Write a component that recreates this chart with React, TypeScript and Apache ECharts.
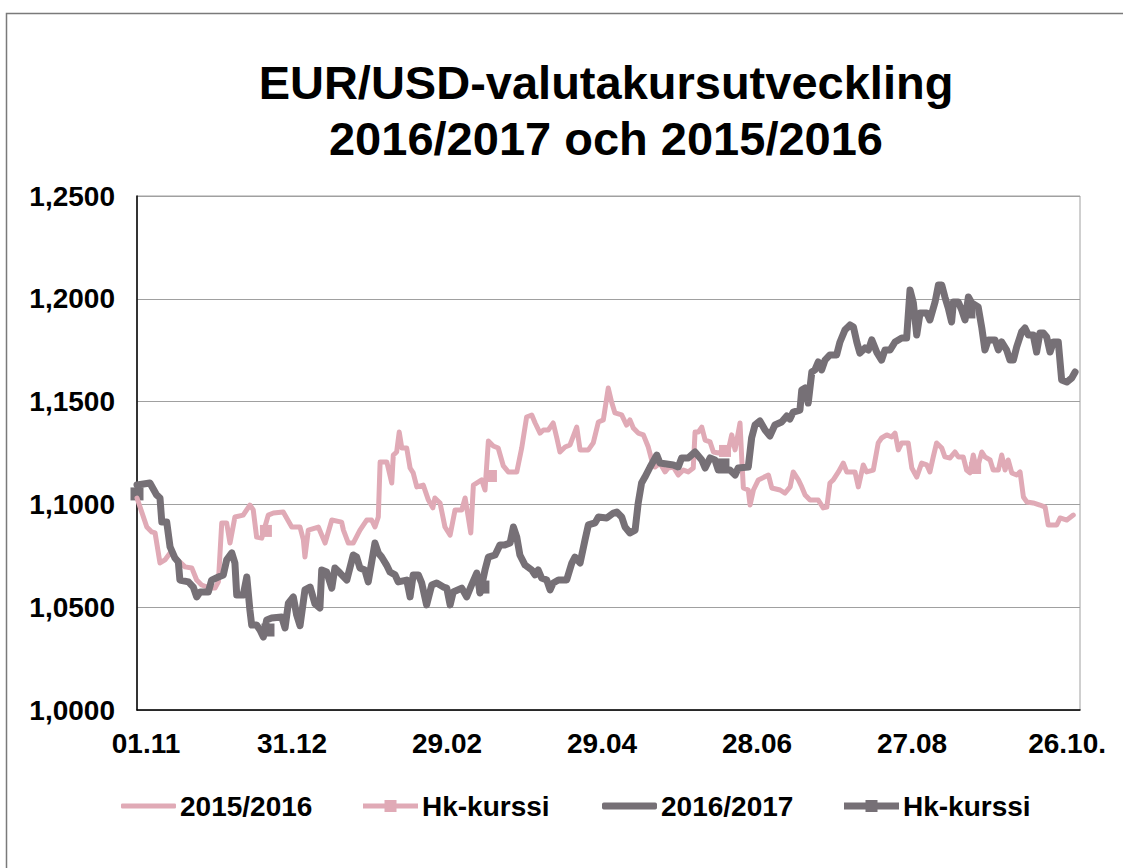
import React, { useEffect, useRef } from "react";
import * as echarts from "echarts";

// x = days since 01.11, y = EUR/USD rate
const tickLabels = ["01.11", "31.12", "29.02", "29.04", "28.06", "27.08", "26.10."];

const rate1516: [number, number][] = [
  [0,1.1031],[3.8,1.0890],[5.7,1.0866],[7.0,1.0861],[8.9,1.0715],[10.8,1.0730],[12.8,1.0764],[18.6,1.0696],[21.2,1.0691],[23.1,1.0632],[25.0,1.0608],[28.3,1.0593],[30.2,1.0593],[31.5,1.0623],[32.8,1.0910],[34.7,1.0910],[36.0,1.0812],[37.9,1.0939],[41.1,1.0948],[43.7,1.0997],[45.0,1.0973],[46.3,1.0841],[48.3,1.0836],[49.5,1.0890],[50.8,1.0948],[52.8,1.0958],[56.6,1.0963],[59.9,1.0890],[63.1,1.0890],[64.4,1.0827],[65.0,1.0744],[66.3,1.0875],[70.2,1.0890],[72.8,1.0812],[75.4,1.0924],[79.2,1.0914],[79.9,1.0875],[81.8,1.0812],[83.7,1.0812],[86.3,1.0875],[88.9,1.0924],[90.8,1.0924],[92.1,1.0890],[93.4,1.0939],[94.1,1.1206],[96.7,1.1206],[98.6,1.1104],[99.2,1.1240],[100.5,1.1255],[101.5,1.1352],[102.5,1.1274],[104.4,1.1274],[105.7,1.1177],[106.9,1.1153],[108.3,1.1085],[110.8,1.1094],[112.8,1.1021],[114.5,1.0983],[115.3,1.1031],[117.3,1.1007],[119.2,1.0890],[121.2,1.0851],[123.1,1.0973],[125.7,1.0973],[127.0,1.1031],[128.2,1.0939],[129.2,1.0861],[130.2,1.1094],[133.4,1.1119],[134.7,1.1070],[136.0,1.1308],[137.9,1.1284],[139.8,1.1274],[141.8,1.1187],[143.7,1.1158],[147.0,1.1158],[148.9,1.1274],[150.8,1.1425],[152.8,1.1435],[154.1,1.1396],[156.0,1.1347],[157.3,1.1362],[159.2,1.1362],[161.1,1.1396],[162.5,1.1323],[163.7,1.1255],[165.7,1.1279],[167.6,1.1289],[170.2,1.1376],[171.5,1.1265],[174.7,1.1265],[176.6,1.1299],[178.6,1.1401],[180.5,1.1411],[182.4,1.1566],[183.7,1.1498],[185.0,1.1445],[187.6,1.1435],[189.5,1.1386],[190.8,1.1411],[192.1,1.1372],[194.0,1.1347],[196.0,1.1338],[197.9,1.1279],[199.2,1.1216],[200.5,1.1182],[202.4,1.1201],[204.4,1.1158],[205.6,1.1177],[207.6,1.1182],[209.5,1.1143],[211.5,1.1167],[213.4,1.1158],[215.3,1.1177],[216.0,1.1352],[217.3,1.1352],[218.6,1.1376],[219.9,1.1313],[221.8,1.1304],[223.1,1.1255],[225.0,1.1250],[228.9,1.1265],[230.2,1.1338],[231.5,1.1265],[233.4,1.1396],[234.1,1.1216],[234.7,1.1080],[236.6,1.1070],[237.3,1.0997],[238.6,1.1070],[240.5,1.1119],[244.4,1.1143],[245.7,1.1080],[248.9,1.1070],[250.8,1.1055],[252.8,1.1085],[254.0,1.1158],[256.0,1.1119],[257.3,1.1085],[258.6,1.1046],[260.5,1.1021],[263.7,1.1021],[265.6,1.0983],[267.0,1.0987],[268.2,1.1104],[269.5,1.1119],[271.5,1.1158],[273.4,1.1201],[274.7,1.1158],[277.9,1.1158],[279.2,1.1085],[281.1,1.1192],[282.4,1.1158],[285.0,1.1167],[286.9,1.1299],[288.2,1.1323],[290.2,1.1338],[292.1,1.1328],[293.4,1.1347],[294.7,1.1265],[296.0,1.1299],[298.5,1.1299],[299.9,1.1177],[301.8,1.1133],[303.7,1.1201],[305.7,1.1192],[306.9,1.1158],[308.2,1.1231],[309.5,1.1299],[311.5,1.1274],[312.7,1.1231],[314.7,1.1226],[316.6,1.1255],[317.9,1.1231],[319.8,1.1231],[321.1,1.1167],[322.4,1.1153],[323.7,1.1240],[325.0,1.1167],[327.0,1.1255],[328.2,1.1231],[330.2,1.1216],[331.4,1.1167],[333.4,1.1167],[334.7,1.1240],[336.0,1.1167],[337.2,1.1216],[338.6,1.1153],[340.5,1.1143],[341.8,1.1158],[343.1,1.1036],[344.4,1.1012],[346.9,1.1007],[349.5,1.0997],[351.5,1.0987],[352.7,1.0900],[356.0,1.0900],[357.3,1.0934],[359.9,1.0924],[362.4,1.0948]
];

const rate1617: [number, number][] = [
  [0,1.1094],[5.0,1.1104],[7.6,1.1046],[8.9,1.1031],[9.6,1.0914],[11.5,1.0914],[12.8,1.0793],[14.7,1.0739],[16.0,1.0720],[16.6,1.0632],[19.9,1.0623],[21.8,1.0598],[23.1,1.0550],[24.4,1.0574],[27.6,1.0574],[28.9,1.0632],[31.5,1.0647],[33.4,1.0657],[34.7,1.0730],[36.7,1.0764],[37.9,1.0715],[38.6,1.0559],[41.1,1.0559],[42.5,1.0647],[43.7,1.0486],[44.4,1.0413],[46.3,1.0413],[47.6,1.0389],[48.9,1.0355],[50.2,1.0438],[52.1,1.0447],[56.0,1.0452],[57.3,1.0399],[58.6,1.0520],[60.5,1.0550],[61.8,1.0462],[63.1,1.0410],[65.0,1.0584],[67.0,1.0598],[68.9,1.0516],[70.8,1.0496],[71.5,1.0681],[73.4,1.0671],[75.4,1.0593],[76.6,1.0691],[78.6,1.0666],[81.2,1.0632],[83.7,1.0754],[85.0,1.0744],[86.3,1.0691],[88.2,1.0681],[89.5,1.0623],[92.1,1.0812],[93.4,1.0764],[94.7,1.0744],[96.6,1.0705],[97.9,1.0671],[99.9,1.0657],[101.1,1.0623],[104.4,1.0632],[105.7,1.0550],[106.9,1.0657],[108.9,1.0657],[110.2,1.0618],[112.1,1.0511],[114.1,1.0608],[116.0,1.0618],[118.6,1.0598],[119.9,1.0593],[121.2,1.0511],[122.4,1.0574],[125.7,1.0593],[127.6,1.0550],[129.5,1.0608],[131.5,1.0666],[132.8,1.0569],[134.7,1.0681],[136.0,1.0744],[138.6,1.0754],[140.5,1.0803],[142.4,1.0803],[144.4,1.0812],[145.7,1.0890],[147.0,1.0841],[148.2,1.0754],[150.2,1.0705],[152.8,1.0681],[154.1,1.0657],[155.3,1.0681],[156.6,1.0642],[158.6,1.0632],[159.9,1.0584],[161.1,1.0618],[163.1,1.0632],[166.3,1.0632],[168.3,1.0715],[169.5,1.0744],[171.5,1.0715],[173.4,1.0827],[174.7,1.0900],[177.3,1.0910],[178.6,1.0939],[181.8,1.0934],[184.4,1.0958],[185.7,1.0963],[187.6,1.0939],[188.9,1.0890],[190.8,1.0861],[192.8,1.0875],[194.0,1.1007],[195.3,1.1104],[196.6,1.1133],[198.6,1.1182],[201.2,1.1240],[202.4,1.1201],[207.6,1.1192],[209.5,1.1182],[210.8,1.1226],[213.4,1.1226],[216.0,1.1255],[218.6,1.1216],[219.9,1.1177],[221.8,1.1226],[223.7,1.1216],[225.0,1.1167],[229.5,1.1167],[231.5,1.1143],[232.7,1.1177],[236.6,1.1182],[237.9,1.1323],[239.2,1.1386],[241.1,1.1406],[243.1,1.1362],[245.0,1.1333],[246.9,1.1386],[249.5,1.1401],[251.5,1.1430],[252.7,1.1415],[254.0,1.1449],[256.6,1.1459],[257.3,1.1556],[258.6,1.1566],[259.8,1.1493],[261.2,1.1644],[262.4,1.1654],[263.7,1.1693],[265.0,1.1654],[266.3,1.1702],[268.2,1.1727],[270.8,1.1727],[272.1,1.1790],[274.0,1.1848],[276.0,1.1873],[277.3,1.1863],[278.6,1.1790],[279.8,1.1736],[281.8,1.1761],[283.1,1.1751],[284.4,1.1800],[286.3,1.1741],[288.2,1.1702],[289.5,1.1751],[291.5,1.1751],[293.4,1.1790],[296.0,1.1809],[297.9,1.1809],[299.2,1.2043],[300.5,1.1980],[301.8,1.1824],[303.1,1.1931],[305.7,1.1931],[306.9,1.1897],[308.9,1.1984],[310.2,1.2067],[311.5,1.2067],[312.7,1.2009],[314.0,1.1955],[315.3,1.1887],[316.0,1.1984],[317.9,1.1984],[319.2,1.1946],[320.5,1.1897],[321.8,1.2009],[323.1,1.1980],[325.6,1.1960],[327.0,1.1858],[328.2,1.1751],[329.5,1.1800],[332.1,1.1800],[333.4,1.1751],[334.7,1.1790],[336.6,1.1751],[337.9,1.1702],[339.2,1.1702],[340.5,1.1766],[342.4,1.1839],[343.7,1.1858],[345.0,1.1824],[346.9,1.1824],[348.2,1.1741],[349.5,1.1834],[350.8,1.1834],[352.1,1.1814],[353.4,1.1741],[354.7,1.1790],[356.6,1.1790],[357.9,1.1605],[359.9,1.1595],[361.8,1.1615],[363.1,1.1644]
];

const hk1516: [number, number][] = [[49.9,1.0871],[137.0,1.1138],[227.6,1.1260],[324.4,1.1177]];
const hk1617: [number, number][] = [[0,1.1051],[50.7,1.0389],[133.9,1.0598],[226.8,1.1192],[322.0,1.1936]];

const seriesNames = ["2015/2016", "Hk-kurssi", "2016/2017", "Hk-kurssi "];

const PINK = "#E0AAB6";
const GREY = "#767076";
const FONT = "'Liberation Sans', Arial, Helvetica, sans-serif";

export default function App() {
  const ref = useRef<HTMLDivElement>(null);
  useEffect(() => {
    document.body.style.margin = "0";
    const chart = echarts.init(ref.current!, null, { renderer: "svg" });
    const labelStyle = { fontFamily: FONT, fontSize: 28, fontWeight: "bold" as const, color: "#000" };
    const hkIcon = (t: number) =>
      `path://M0,${7 - t / 2}H21.5V1H33.5V${7 - t / 2}H55V${7 + t / 2}H33.5V13H21.5V${7 + t / 2}H0Z`;
    const mkLegend = (left: number, name: string, icon: string, h: number, color: string) => ({
      left,
      top: 792,
      padding: 0,
      itemWidth: 55,
      itemHeight: h,
      itemGap: 0,
      selectedMode: false,
      formatter: (n: string) => n.trim(),
      textStyle: { ...labelStyle, padding: [0, 0, 0, -1] },
      data: [{ name, icon, itemStyle: { color, borderWidth: 0, opacity: 1 } }],
    });
    chart.setOption({
      animation: false,
      backgroundColor: "#fff",
      grid: { left: 137, right: 43, top: 196, bottom: 158, show: true, borderColor: "#a0a0a0", borderWidth: 1 },
      graphic: [
        {
          type: "rect",
          shape: { x: 6.5, y: 13.5, width: 1140, height: 880 },
          style: { fill: "none", stroke: "#7a7a7a", lineWidth: 1.5 },
          silent: true,
        },
        {
          type: "text",
          x: 606,
          y: 82,
          style: { text: "EUR/USD-valutakursutveckling", fontFamily: FONT, fontSize: 47, fontWeight: "bold", fill: "#000", textAlign: "center", textVerticalAlign: "middle" },
        },
        {
          type: "text",
          x: 606,
          y: 138,
          style: { text: "2016/2017 och 2015/2016", fontFamily: FONT, fontSize: 47, fontWeight: "bold", fill: "#000", textAlign: "center", textVerticalAlign: "middle" },
        },
      ],
      legend: [
        mkLegend(121, seriesNames[0], "roundRect", 5, PINK),
        mkLegend(363, seriesNames[1], hkIcon(5), 14, PINK),
        mkLegend(602, seriesNames[2], "roundRect", 7, GREY),
        mkLegend(844, seriesNames[3], hkIcon(7), 14, GREY),
      ],
      xAxis: {
        type: "value",
        min: 0,
        max: 365,
        interval: 60,
        splitLine: { show: false },
        axisTick: { show: false },
        axisLine: { show: true, lineStyle: { color: "#000", width: 1.5 } },
        axisLabel: {
          ...labelStyle,
          margin: 19,
          showMaxLabel: false,
          formatter: (v: number) => {
            if (v % 60 !== 0) return "";
            const i = v / 60;
            const s = tickLabels[i] ?? "";
            return i === 0 ? `{first|${s}}` : s;
          },
          rich: { first: { ...labelStyle, padding: [0, 0, 0, 18] } },
        },
      },
      yAxis: {
        type: "value",
        min: 1,
        max: 1.25,
        interval: 0.05,
        axisTick: { show: false },
        axisLine: { show: true, lineStyle: { color: "#000", width: 1.5 } },
        splitLine: { show: true, lineStyle: { color: "#a0a0a0", width: 1 } },
        axisLabel: {
          ...labelStyle,
          margin: 22,
          formatter: (v: number) => v.toFixed(4).replace(".", ","),
        },
      },
      series: [
        {
          name: seriesNames[0],
          type: "line",
          data: rate1516,
          symbol: "none",
          lineStyle: { color: PINK, width: 5, cap: "round", join: "round" },
          itemStyle: { color: PINK },
        },
        {
          name: seriesNames[1],
          type: "scatter",
          data: hk1516,
          symbol: "rect",
          symbolSize: 12,
          itemStyle: { color: PINK, opacity: 1 },
        },
        {
          name: seriesNames[2],
          type: "line",
          data: rate1617,
          symbol: "none",
          lineStyle: { color: GREY, width: 7, cap: "round", join: "round" },
          itemStyle: { color: GREY },
        },
        {
          name: seriesNames[3],
          type: "scatter",
          data: hk1617,
          symbol: "rect",
          symbolSize: 13,
          itemStyle: { color: GREY, opacity: 1 },
        },
      ],
    });
    return () => chart.dispose();
  }, []);
  return <div ref={ref} style={{ width: 1123, height: 868 }} />;
}
